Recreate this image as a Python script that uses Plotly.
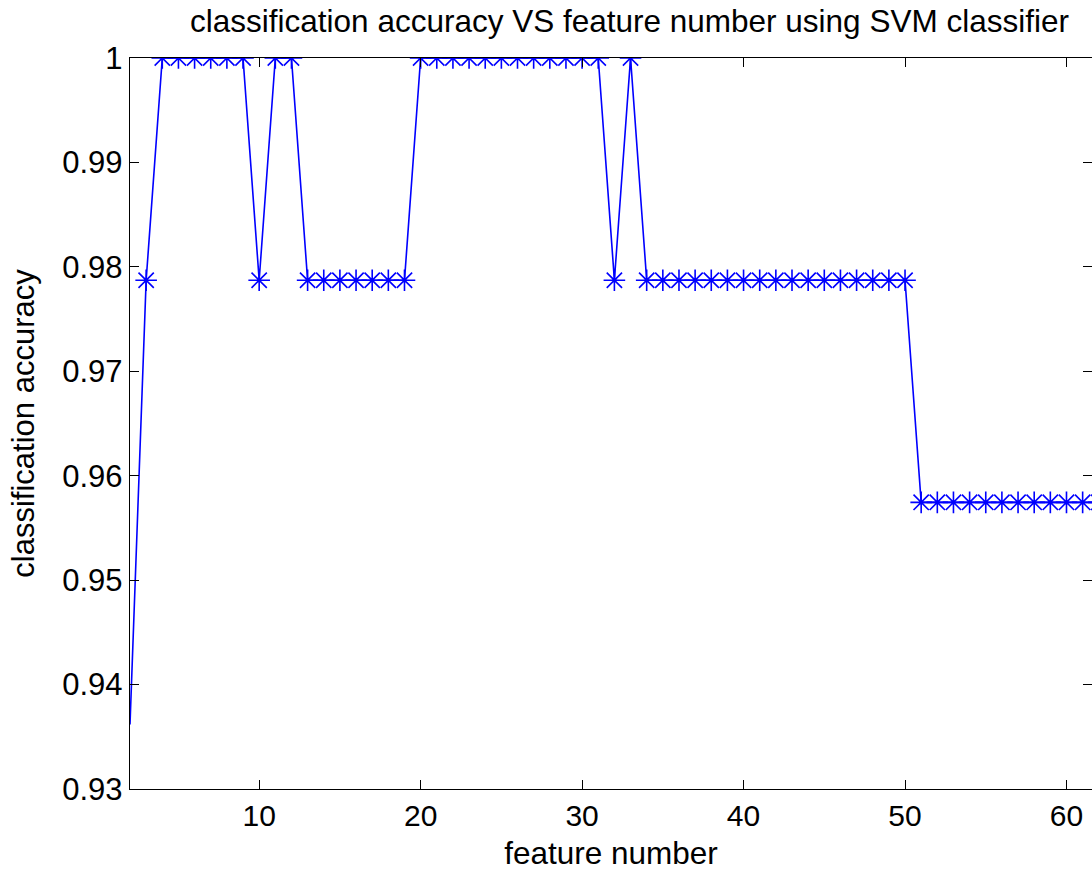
import plotly.graph_objects as go

# feature number (x) and classification accuracy (y)
feature_number = list(range(2, 63))
accuracy = (
    [0.93617, 0.97872]
    + [1.0] * 6            # 4-9
    + [0.97872]            # 10
    + [1.0] * 2            # 11-12
    + [0.97872] * 7        # 13-19
    + [1.0] * 12           # 20-31
    + [0.97872]            # 32
    + [1.0]                # 33
    + [0.97872] * 17       # 34-50
    + [0.95745] * 12       # 51-62
)

y_tick_vals = [0.93, 0.94, 0.95, 0.96, 0.97, 0.98, 0.99, 1.0]
y_tick_text = ["0.93", "0.94", "0.95", "0.96", "0.97", "0.98", "0.99", "1"]
x_tick_vals = [10, 20, 30, 40, 50, 60]

BLUE = "rgb(0,0,255)"
FONT = "Liberation Sans, Arial, Helvetica, sans-serif"

fig = go.Figure()
fig.add_trace(go.Scatter(
    x=feature_number, y=accuracy, mode="lines",
    line=dict(color=BLUE, width=1.6), showlegend=False, hoverinfo="skip",
))
fig.add_trace(go.Scatter(
    x=feature_number[1:], y=accuracy[1:], mode="markers",
    marker=dict(symbol="asterisk-open", size=18, color=BLUE,
                line=dict(color=BLUE, width=1.6)),
    showlegend=False,
))

axis_common = dict(
    showgrid=False, zeroline=False, showline=True, linecolor="black",
    linewidth=1.4, mirror="ticks", ticks="inside", ticklen=9, tickwidth=1,
    tickcolor="black",
)

fig.update_layout(
    width=1092, height=871,
    margin=dict(l=130, r=0, t=58, b=82, autoexpand=False),
    paper_bgcolor="white", plot_bgcolor="white",
    font=dict(family=FONT, color="black"),
    title=dict(
        text="classification accuracy VS feature number using SVM classifier",
        x=629.5 / 1092, xanchor="center", xref="container",
        y=1 - 21 / 871, yanchor="middle", yref="container",
        font=dict(family=FONT, size=31.5, color="black"),
    ),
    xaxis=dict(
        range=[2, 61.58], tickvals=x_tick_vals,
        tickfont=dict(family=FONT, size=30, color="black"),
        title=dict(text="feature number", font=dict(family=FONT, size=31.5, color="black"),
                   standoff=15),
        **axis_common,
    ),
    yaxis=dict(
        range=[0.93, 1.0], tickvals=y_tick_vals, ticktext=y_tick_text,
        tickfont=dict(family=FONT, size=31, color="black"),
        title=dict(text="classification accuracy", font=dict(family=FONT, size=31, color="black"),
                   standoff=18),
        **axis_common,
    ),
)

fig.write_html("out.html")
